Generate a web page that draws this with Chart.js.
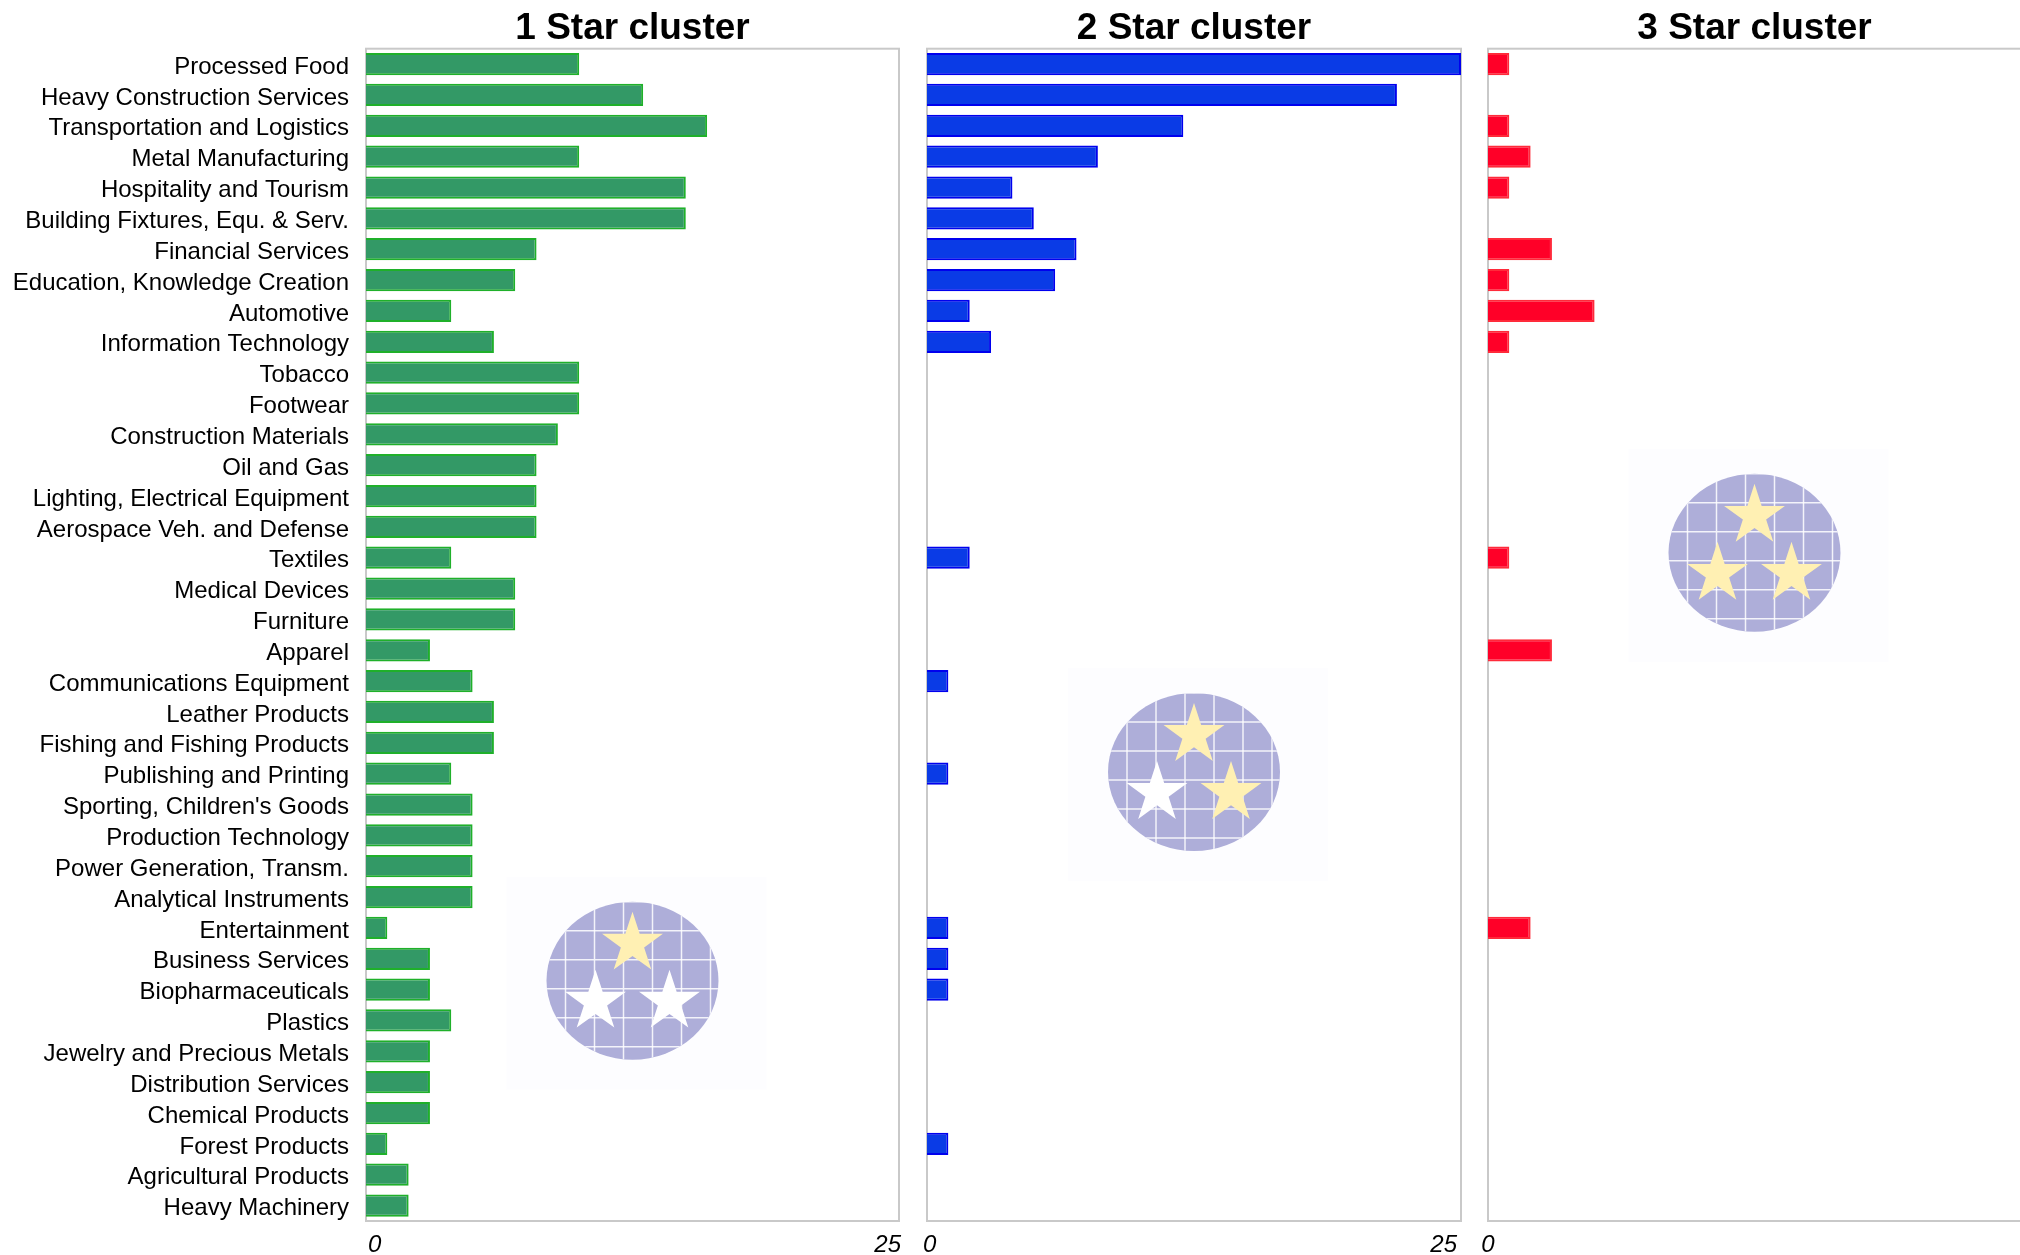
<!DOCTYPE html>
<html>
<head>
<meta charset="utf-8">
<title>Star clusters</title>
<script src="https://cdn.jsdelivr.net/npm/chart.js@4/dist/chart.umd.min.js"></script>
<style>
    html, body { margin: 0; padding: 0; background: #fff; }
    body { width: 2020px; height: 1255px; overflow: hidden; position: relative; }
    .panel { position: absolute; top: 0; height: 1255px; }
</style>
</head>
<body>
<div class="panel" style="left:0;width:912px"><canvas id="chart-1" width="912" height="1255"></canvas></div>
<div class="panel" style="left:915px;width:560px"><canvas id="chart-2" width="560" height="1255"></canvas></div>
<div class="panel" style="left:1466px;width:610px"><canvas id="chart-3" width="610" height="1255"></canvas></div>
<script>
/**
 * Categories, top to bottom.
 */
const CATEGORIES = [
    'Processed Food', 'Heavy Construction Services', 'Transportation and Logistics', 'Metal Manufacturing',
    'Hospitality and Tourism', 'Building Fixtures, Equ. & Serv.', 'Financial Services',
    'Education, Knowledge Creation', 'Automotive', 'Information Technology', 'Tobacco', 'Footwear',
    'Construction Materials', 'Oil and Gas', 'Lighting, Electrical Equipment', 'Aerospace Veh. and Defense',
    'Textiles', 'Medical Devices', 'Furniture', 'Apparel', 'Communications Equipment', 'Leather Products',
    'Fishing and Fishing Products', 'Publishing and Printing', "Sporting, Children's Goods",
    'Production Technology', 'Power Generation, Transm.', 'Analytical Instruments', 'Entertainment',
    'Business Services', 'Biopharmaceuticals', 'Plastics', 'Jewelry and Precious Metals',
    'Distribution Services', 'Chemical Products', 'Forest Products', 'Agricultural Products', 'Heavy Machinery'
];

/**
 * Number of clusters per category, one array per panel.
 */
const ONE_STAR = [10, 13, 16, 10, 15, 15, 8, 7, 4, 6, 10, 10, 9, 8, 8, 8, 4, 7, 7, 3,
    5, 6, 6, 4, 5, 5, 5, 5, 1, 3, 3, 4, 3, 3, 3, 1, 2, 2];
const TWO_STAR = [25, 22, 12, 8, 4, 5, 7, 6, 2, 3, 0, 0, 0, 0, 0, 0, 2, 0, 0, 0,
    1, 0, 0, 1, 0, 0, 0, 0, 1, 1, 1, 0, 0, 0, 0, 1, 0, 0];
const THREE_STAR = [1, 0, 1, 2, 1, 0, 3, 1, 5, 1, 0, 0, 0, 0, 0, 0, 1, 0, 0, 3,
    0, 0, 0, 0, 0, 0, 0, 0, 2, 0, 0, 0, 0, 0, 0, 0, 0, 0];

const TITLES = ['1 Star cluster', '2 Star cluster', '3 Star cluster'];
const X_MAX = 25;
const X_TICKS = [0, 25];
// третья панель обрезана справа, там видно только 0
const X_TICKS_CUT = [0];

Chart.defaults.font.family = '"Liberation Sans", Arial, Helvetica, sans-serif';
Chart.defaults.color = '#000';
Chart.defaults.animation = false;

/**
 * Grey frame round the plot area.
 */
const framePlugin = {
    id: 'frame',
    beforeDatasetsDraw(chart) {
        const { ctx, chartArea: a } = chart;
        ctx.save();
        ctx.strokeStyle = '#c9c9c9';
        ctx.lineWidth = 2;
        ctx.strokeRect(a.left, a.top, a.right - a.left, a.bottom - a.top);
        ctx.restore();
    }
};

const drawStar = (ctx, x, y, R, color) => {
    const r = R * 0.382;
    ctx.beginPath();
    for (let i = 0; i < 10; i++) {
        const ang = -Math.PI / 2 + i * Math.PI / 5;
        const rad = i % 2 ? r : R;
        ctx.lineTo(x + rad * Math.cos(ang), y + rad * Math.sin(ang));
    }
    ctx.closePath();
    ctx.fillStyle = color;
    ctx.fill();
};

/**
 * Faint logo behind the bars: blue ellipse with a white grid and three stars.
 */
const logoPlugin = {
    id: 'logo',
    beforeDatasetsDraw(chart, args, opts) {
        const { ctx, chartArea: a } = chart;
        const cx = (a.left + a.right) / 2;
        const cy = a.top + (a.bottom - a.top) * opts.at;
        ctx.save();
        ctx.fillStyle = 'rgba(250,250,255,0.3)';
        ctx.fillRect(cx - 126, cy - 104, 260, 213);

        ctx.beginPath();
        ctx.ellipse(cx, cy, 86, 79, 0, 0, Math.PI * 2);
        ctx.fillStyle = '#aeaed9';
        ctx.fill();
        ctx.clip();

        ctx.strokeStyle = 'rgba(255,255,255,0.85)';
        ctx.lineWidth = 1.5;
        for (let k = -3; k <= 3; k++) {
            ctx.beginPath();
            ctx.moveTo(cx - 9 + k * 29, cy - 90);
            ctx.lineTo(cx - 9 + k * 29, cy + 90);
            ctx.moveTo(cx - 100, cy + 8 + k * 29);
            ctx.lineTo(cx + 100, cy + 8 + k * 29);
            ctx.stroke();
        }
        ctx.restore();

        ctx.save();
        drawStar(ctx, cx, cy - 37, 32, opts.stars[0]);
        drawStar(ctx, cx - 37, cy + 21, 32, opts.stars[1]);
        drawStar(ctx, cx + 37, cy + 21, 32, opts.stars[2]);
        ctx.restore();
    }
};

const YELLOW = '#fff0b3';
const WHITE = '#ffffff';

/**
 * Builds one panel.
 */
const makePanel = (id, { title, values, fill, border, ticks, tickAlign, tickShift, showLabels, padLeft, padRight, logoAt, stars }) => {
    new Chart(document.getElementById(id), {
        type: 'bar',
        data: {
            labels: CATEGORIES,
            datasets: [{
                data: values,
                backgroundColor: fill,
                borderColor: border,
                borderWidth: 2,
                categoryPercentage: 1,
                barPercentage: 0.72
            }]
        },
        options: {
            indexAxis: 'y',
            responsive: false,
            layout: { padding: { left: padLeft, right: padRight, top: 0, bottom: 0 } },
            plugins: {
                legend: { display: false },
                tooltip: { enabled: false },
                title: {
                    display: true,
                    text: title,
                    fullSize: false,
                    font: { size: 37, weight: 'bold', lineHeight: 1.1 },
                    padding: { top: 8, bottom: 0 }
                },
                logo: { at: logoAt, stars }
            },
            scales: {
                x: {
                    type: 'linear',
                    min: 0,
                    max: X_MAX,
                    afterBuildTicks: (s) => { s.ticks = ticks.map((v) => ({ value: v })); },
                    afterFit: (s) => { s.height = 34; },
                    grid: { display: false },
                    border: { display: false },
                    ticks: { align: tickAlign, autoSkip: false, maxRotation: 0, padding: 2, labelOffset: tickShift,
                        font: { size: 24, style: 'italic' } }
                },
                y: {
                    display: showLabels,
                    afterFit: (s) => { s.width = showLabels ? 366 : 0; },
                    grid: { display: false, drawTicks: false },
                    border: { display: false },
                    ticks: { autoSkip: false, padding: 17, labelOffset: 3, font: { size: 24 } }
                }
            }
        },
        plugins: [framePlugin, logoPlugin]
    });
};

makePanel('chart-1', {
    title: TITLES[0], values: ONE_STAR, fill: '#339966', border: '#1fb02a', ticks: X_TICKS,
    tickAlign: 'inner', tickShift: 2,
    showLabels: true, padLeft: 0, padRight: 13, logoAt: 0.795, stars: [YELLOW, WHITE, WHITE]
});
makePanel('chart-2', {
    title: TITLES[1], values: TWO_STAR, fill: '#0a3be6', border: '#0000ee', ticks: X_TICKS,
    tickAlign: 'inner', tickShift: -4,
    showLabels: false, padLeft: 12, padRight: 14, logoAt: 0.617, stars: [YELLOW, WHITE, YELLOW]
});
makePanel('chart-3', {
    title: TITLES[2], values: THREE_STAR, fill: '#ff0028', border: '#ff2a3a', ticks: X_TICKS_CUT,
    tickAlign: 'center', tickShift: 0,
    showLabels: false, padLeft: 22, padRight: 55, logoAt: 0.43, stars: [YELLOW, YELLOW, YELLOW]
});
</script>
</body>
</html>
